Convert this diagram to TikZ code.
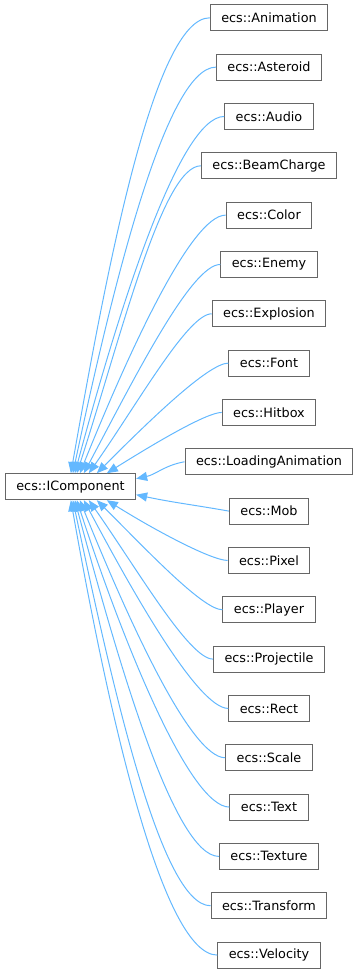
\documentclass[tikz,border=0pt]{standalone}
\usepackage{fontspec}
\setmainfont{DejaVu Sans}
\usetikzlibrary{arrows.meta}

\definecolor{edgeblue}{HTML}{63B8FF}
\definecolor{boxgray}{HTML}{666666}

\begin{document}
\begin{tikzpicture}[x=1pt,y=1pt,>={Triangle[length=11pt,width=9pt]},
  cls/.style={draw=boxgray,line width=1pt,fill=white,inner xsep=11pt,
    inner ysep=0pt,minimum height=26pt,font=\fontsize{12.8}{15}\selectfont},
  inh/.style={draw=edgeblue,line width=1pt,->}]
  % canvas 360 x 973, y runs downwards
  \useasboundingbox (0,0) rectangle (360,-973);
  \def\cx{269}
  \def\dy{49.33}

  % base class
  \node[cls] (base) at (70.5,-486.7) {ecs::IComponent};

  % derived classes
  \foreach \nm [count=\i] in {Animation,Asteroid,Audio,BeamCharge,Color,Enemy,
      Explosion,Font,Hitbox,LoadingAnimation,Mob,Pixel,Player,Projectile,Rect,
      Scale,Text,Texture,Transform,Velocity}
    \node[cls] (c\i) at (\cx,{-17.8-\dy*(\i-1)}) {ecs::\nm};

  % upper edges, onto the top of the base box
  \foreach \i/\dx/\ang in {1/66/80,2/68/78,3/70/75,4/72/72,5/75/68,
      6/79/62,7/84/55,8/92/45,9/102/32}
    \draw[inh] (c\i.west) to[out=180,in=\ang,out looseness=0.3,in looseness=1.1]
      ([xshift=\dx]base.north west);

  % lower edges, onto the bottom of the base box
  \foreach \i/\dx/\ang in {20/66/80,19/68/78,18/70/75,17/72/72,16/75/68,
      15/79/62,14/84/55,13/92/45,12/102/32}
    \draw[inh] (c\i.west) to[out=180,in=-\ang,out looseness=0.3,in looseness=1.1]
      ([xshift=\dx]base.south west);

  % the two middle ones, onto the right side
  \draw[inh] (c10.west) to[out=190,in=12] ([yshift=8]base.east);
  \draw[inh] (c11.west) to[out=170,in=-12] ([yshift=-8]base.east);
\end{tikzpicture}
\end{document}
